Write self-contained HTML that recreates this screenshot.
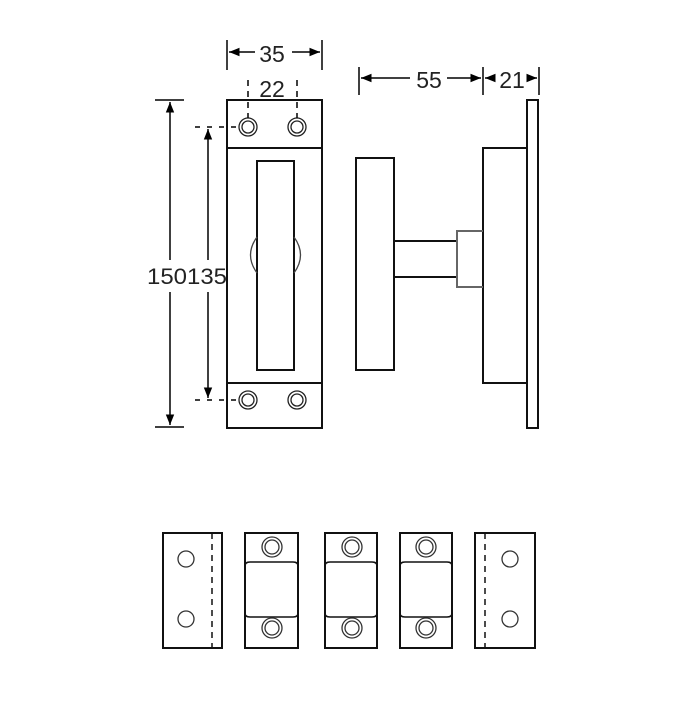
<!DOCTYPE html>
<html><head><style>body{margin:0;background:#fff}</style></head><body>
<svg width="700" height="700" viewBox="0 0 700 700" xmlns="http://www.w3.org/2000/svg" font-family="Liberation Sans, sans-serif">
<defs>
<marker id="a" viewBox="0 0 10 10" refX="10" refY="5" markerWidth="7" markerHeight="7" orient="auto-start-reverse"><path d="M0,1 L10,5 L0,9z" fill="#000"/></marker>
</defs>
<g fill="none" stroke="#111" stroke-width="2">
<rect x="227" y="100" width="95" height="328"/>
<line x1="227" y1="148" x2="322" y2="148"/>
<line x1="227" y1="383" x2="322" y2="383"/>
<rect x="257" y="161" width="37" height="209"/>
<path d="M257,237 Q244,255 257,273" stroke-width="1.3" stroke="#444"/>
<path d="M294,237 Q307,255 294,273" stroke-width="1.3" stroke="#444"/>
</g>
<g fill="none" stroke="#222" stroke-width="1.3">
<circle cx="248" cy="127" r="9"/><circle cx="248" cy="127" r="6"/>
<circle cx="297" cy="127" r="9"/><circle cx="297" cy="127" r="6"/>
<circle cx="248" cy="400" r="9"/><circle cx="248" cy="400" r="6"/>
<circle cx="297" cy="400" r="9"/><circle cx="297" cy="400" r="6"/>
</g>
<g fill="none" stroke="#000" stroke-width="1.5">
<line x1="227" y1="40" x2="227" y2="70"/><line x1="322" y1="40" x2="322" y2="70"/>
<line x1="229" y1="52" x2="255" y2="52" marker-start="url(#a)"/>
<line x1="292" y1="52" x2="320" y2="52" marker-end="url(#a)"/>
<line x1="248" y1="80" x2="248" y2="118" stroke-dasharray="6,5"/>
<line x1="297" y1="80" x2="297" y2="118" stroke-dasharray="6,5"/>
<line x1="155" y1="100" x2="184" y2="100"/><line x1="155" y1="427" x2="184" y2="427"/>
<line x1="170" y1="102" x2="170" y2="260" marker-start="url(#a)"/>
<line x1="170" y1="292" x2="170" y2="425" marker-end="url(#a)"/>
<line x1="195" y1="127" x2="240" y2="127" stroke-dasharray="5,7"/>
<line x1="195" y1="400" x2="240" y2="400" stroke-dasharray="5,7"/>
<line x1="208" y1="129" x2="208" y2="260" marker-start="url(#a)"/>
<line x1="208" y1="292" x2="208" y2="398" marker-end="url(#a)"/>
<line x1="359" y1="67" x2="359" y2="95"/><line x1="483" y1="67" x2="483" y2="95"/><line x1="539" y1="67" x2="539" y2="95"/>
<line x1="361" y1="78" x2="410" y2="78" marker-start="url(#a)"/>
<line x1="447" y1="78" x2="481" y2="78" marker-end="url(#a)"/>
<line x1="485" y1="78" x2="494" y2="78" marker-start="url(#a)"/>
<line x1="530" y1="78" x2="537" y2="78" marker-end="url(#a)"/>
</g>
<g fill="#222" font-size="23">
<text x="272" y="62" text-anchor="middle">35</text>
<text x="272" y="97" text-anchor="middle">22</text>
<text x="429" y="88" text-anchor="middle">55</text>
<text x="512" y="88" text-anchor="middle">21</text>
<text x="147" y="284" font-size="22" textLength="80" lengthAdjust="spacingAndGlyphs">150135</text>
</g>
<g fill="none" stroke="#111" stroke-width="2">
<rect x="527" y="100" width="11" height="328"/>
<rect x="483" y="148" width="44" height="235"/>
<rect x="356" y="158" width="38" height="212"/>
<line x1="394" y1="241" x2="456" y2="241"/><line x1="394" y1="277" x2="456" y2="277"/>
<path d="M483,231 H457 V287 H483" stroke="#666"/>
</g>
<g fill="none" stroke="#111" stroke-width="2">
<rect x="163" y="533" width="59" height="115"/>
<rect x="245" y="533" width="53" height="115"/>
<rect x="325" y="533" width="52" height="115"/>
<rect x="400" y="533" width="52" height="115"/>
<rect x="475" y="533" width="60" height="115"/>
<line x1="212" y1="533" x2="212" y2="648" stroke-dasharray="6,5" stroke-width="1.5"/>
<line x1="485" y1="533" x2="485" y2="648" stroke-dasharray="6,5" stroke-width="1.5"/>
<path d="M245,566 Q245,562 250,562 H293 Q298,562 298,566 M245,613 Q245,617 250,617 H293 Q298,617 298,613" stroke-width="1.5"/>
<path d="M325,566 Q325,562 330,562 H372 Q377,562 377,566 M325,613 Q325,617 330,617 H372 Q377,617 377,613" stroke-width="1.5"/>
<path d="M400,566 Q400,562 405,562 H447 Q452,562 452,566 M400,613 Q400,617 405,617 H447 Q452,617 452,613" stroke-width="1.5"/>
</g>
<g fill="none" stroke="#333" stroke-width="1.3">
<circle cx="186" cy="559" r="8"/><circle cx="186" cy="619" r="8"/>
<circle cx="510" cy="559" r="8"/><circle cx="510" cy="619" r="8"/>
<circle cx="272" cy="547" r="10"/><circle cx="272" cy="547" r="7"/>
<circle cx="272" cy="628" r="10"/><circle cx="272" cy="628" r="7"/>
<circle cx="352" cy="547" r="10"/><circle cx="352" cy="547" r="7"/>
<circle cx="352" cy="628" r="10"/><circle cx="352" cy="628" r="7"/>
<circle cx="426" cy="547" r="10"/><circle cx="426" cy="547" r="7"/>
<circle cx="426" cy="628" r="10"/><circle cx="426" cy="628" r="7"/>
</g>
</svg>
</body></html>
